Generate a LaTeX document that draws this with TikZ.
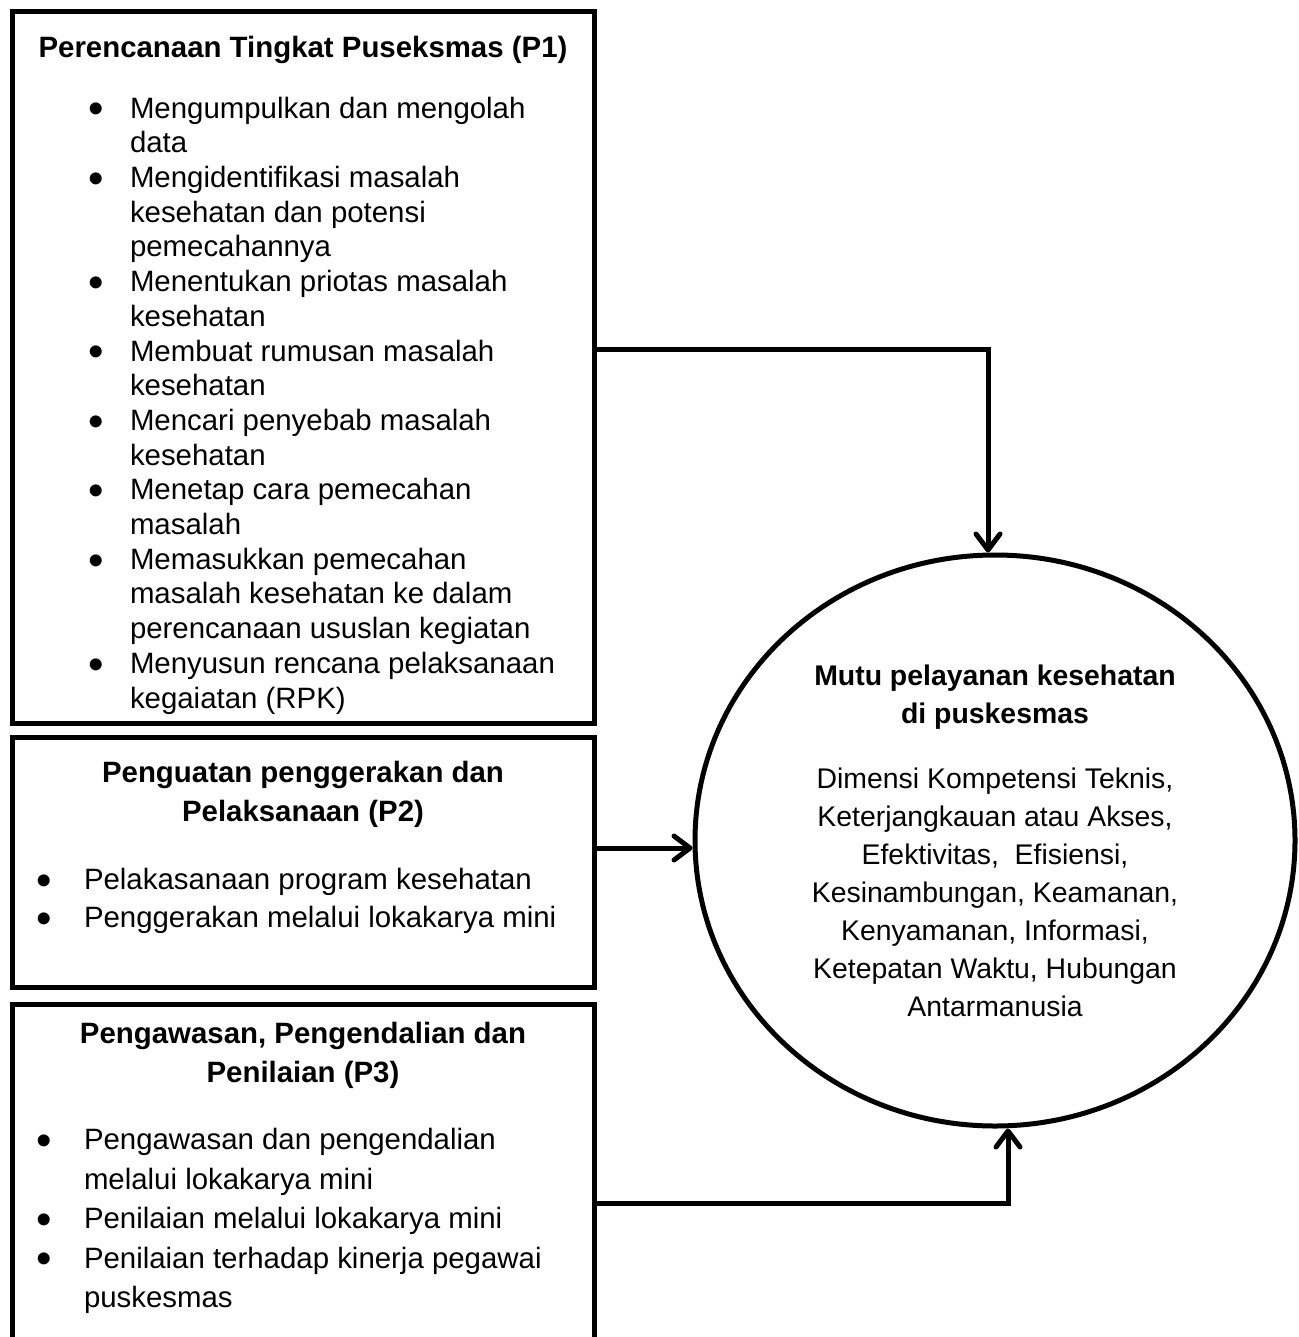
\documentclass[tikz,border=0pt]{standalone}
\usepackage{fontspec}
\setmainfont{Liberation Sans}
\usepackage{enumitem}
\usetikzlibrary{positioning,shapes.geometric,arrows.meta}
\tikzstyle{planning flow}=[
    x=0.5pt,y=-0.5pt,line width=2.5pt,
    >={Straight Barb[length=8pt,width=12pt,round]},
]
\tikzstyle{plan}=[draw,inner sep=0pt,outer sep=0pt,font=\fontsize{14.7}{17.35}\selectfont]
\tikzstyle{quality}=[draw,ellipse,minimum width=300pt,minimum height=285.5pt,
    inner sep=0pt,align=center,font=\fontsize{14.2}{19}\selectfont]
\setlist[itemize]{label=\smash{\raisebox{-2.9pt}{\scalebox{1.5}{\textbullet}}},align=left,
    itemsep=0pt,parsep=0pt,topsep=0pt,partopsep=0pt}
\newcommand{\planbody}[2]{\parbox[c][#1][t]{291pt}{#2}}
\newcommand{\plantitle}[2]{\vspace*{#1}{\centering\bfseries\strut #2\par}}

\begin{document}
\begin{tikzpicture}[planning flow]
    \useasboundingbox (0,0) rectangle (1298,1337);
    \node[plan,anchor=north west] (p1) at (12,12) {\planbody{355.5pt}{%
        \plantitle{10.6pt}{Perencanaan Tingkat Puseksmas (P1)}
        \vspace{13pt}
        \begin{itemize}[left=38pt..59pt]
            \item Mengumpulkan dan mengolah\\ data
            \item Mengidentifikasi masalah\\ kesehatan dan potensi\\ pemecahannya
            \item Menentukan priotas masalah\\ kesehatan
            \item Membuat rumusan masalah\\ kesehatan
            \item Mencari penyebab masalah\\ kesehatan
            \item Menetap cara pemecahan\\ masalah
            \item Memasukkan pemecahan\\ masalah kesehatan ke dalam\\ perencanaan ususlan kegiatan
            \item Menyusun rencana pelaksanaan\\ kegaiatan (RPK)
        \end{itemize}}};
    \node[plan,font=\fontsize{14.7}{19.25}\selectfont,below=7pt of p1] (p2) {\planbody{125pt}{%
        \plantitle{9.5pt}{Penguatan penggerakan dan\\ Pelaksanaan (P2)}
        \vspace{14.75pt}
        \begin{itemize}[left=12.5pt..36pt]
            \item Pelakasanaan program kesehatan
            \item Penggerakan melalui lokakarya mini
        \end{itemize}}};
    \node[plan,font=\fontsize{14.7}{19.75}\selectfont,below=8.5pt of p2] (p3) {\planbody{170.5pt}{%
        \plantitle{5.7pt}{Pengawasan, Pengendalian dan\\ Penilaian (P3)}
        \vspace{13.75pt}
        \begin{itemize}[left=12.5pt..36pt]
            \item Pengawasan dan pengendalian\\ melalui lokakarya mini
            \item Penilaian melalui lokakarya mini
            \item Penilaian terhadap kinerja pegawai\\ puskesmas
        \end{itemize}}};
    \node[quality] (mutu) at (995,840.5) {%
        \textbf{Mutu pelayanan kesehatan}\\ \textbf{di puskesmas}\\[13.5pt]
        Dimensi Kompetensi Teknis,\\ Keterjangkauan atau Akses,\\
        Efektivitas,\ \ Efisiensi,\\ Kesinambungan, Keamanan,\\
        Kenyamanan, Informasi,\\ Ketepatan Waktu, Hubungan\\ Antarmanusia};

    \draw[->] ([yshift=9.25pt]p1.east) -| ([xshift=-3.5pt]mutu.north);
    \draw[->] ([yshift=7pt]p2.east) -- ([yshift=-3.75pt]mutu.west);
    \draw[->] ([yshift=-14.25pt]p3.east) -| ([xshift=6.5pt]mutu.south);
\end{tikzpicture}
\end{document}
